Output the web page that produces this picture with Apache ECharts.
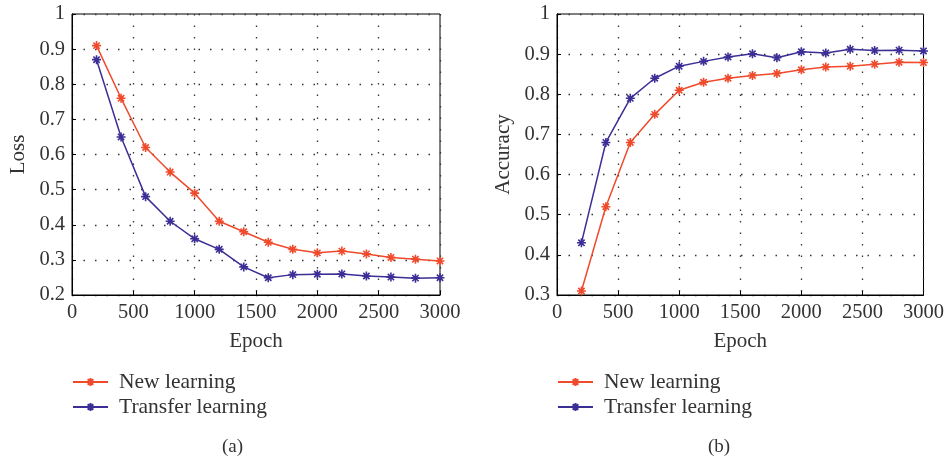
<!DOCTYPE html>
<html><head><meta charset="utf-8">
<script src="https://cdn.jsdelivr.net/npm/echarts@6/dist/echarts.min.js"></script>
<style>html,body{margin:0;padding:0;background:#fff}#c{width:947px;height:462px}</style>
</head><body><div id="c"></div>
<script>
const epochs = [200,400,600,800,1000,1200,1400,1600,1800,2000,2200,2400,2600,2800,3000];
const lossNew = [0.91,0.76,0.62,0.55,0.49,0.41,0.38,0.35,0.33,0.32,0.325,0.317,0.307,0.302,0.297];
const lossTransfer = [0.87,0.65,0.48,0.41,0.36,0.33,0.28,0.249,0.258,0.259,0.26,0.254,0.251,0.248,0.249];
const accNew = [0.31,0.52,0.68,0.75,0.81,0.83,0.84,0.847,0.852,0.861,0.868,0.870,0.875,0.880,0.879];
const accTransfer = [0.43,0.68,0.79,0.84,0.87,0.882,0.893,0.901,0.891,0.906,0.903,0.912,0.909,0.910,0.908];
const seriesNames = ['New learning','Transfer learning'];
const captions = ['(a)','(b)'];

const RED = '#ef4a2c', BLUE = '#3b2e95';
const FONT = 'Liberation Serif';
const star = 'path://M0,-1L0,1M-1,0L1,0M-0.7,-0.7L0.7,0.7M-0.7,0.7L0.7,-0.7';
const pairs = (ys) => epochs.map((x,i)=>[x,ys[i]]);

function xAx(gi){
  return {gridIndex:gi,type:'value',min:0,max:3000,interval:500,name:'Epoch',nameLocation:'middle',nameGap:36,
    nameTextStyle:{fontFamily:FONT,fontSize:21,color:'#333'},
    axisLine:{lineStyle:{color:'#000',width:1}},axisTick:{inside:true,length:4,lineStyle:{color:'#000'}},
    axisLabel:{fontFamily:FONT,fontSize:20.5,color:'#333',margin:7,formatter:(v)=>String(v)},
    splitLine:{show:true,lineStyle:{color:'#333',type:[1.5,10],width:1.3}}};
}
function yAx(gi,min,name){
  return {gridIndex:gi,type:'value',min:min,max:1,interval:0.1,name:name,nameLocation:'middle',nameGap:43,
    nameTextStyle:{fontFamily:FONT,fontSize:21,color:'#333'},
    axisLine:{show:true,lineStyle:{color:'#000',width:1}},axisTick:{show:true,inside:true,length:4,lineStyle:{color:'#000'}},
    axisLabel:{fontFamily:FONT,fontSize:20.5,color:'#333',margin:7,formatter:(v)=>String(+v.toFixed(1))},
    splitLine:{show:true,lineStyle:{color:'#333',type:[1.5,10],width:1.3}}};
}
function ser(name,gi,data,color){
  return {name:name,type:'line',xAxisIndex:gi,yAxisIndex:gi,data:pairs(data),symbol:star,symbolSize:9,
    lineStyle:{color:color,width:1.5},itemStyle:{color:color,borderColor:color,borderWidth:1.6},z:3};
}
function leg(left){
  return {orient:'vertical',left:left,top:366,itemWidth:35,itemHeight:10,itemGap:3,data:seriesNames,
    textStyle:{fontFamily:FONT,fontSize:21.5,color:'#333',padding:[0,0,0,6]},selectedMode:false};
}

const chart = echarts.init(document.getElementById('c'),null,{renderer:'canvas'});
chart.setOption({
  animation:false,
  title:[
    {text:captions[0],left:222,top:438,padding:0,textStyle:{fontFamily:FONT,fontSize:19,fontWeight:'normal',color:'#333'}},
    {text:captions[1],left:708,top:438,padding:0,textStyle:{fontFamily:FONT,fontSize:19,fontWeight:'normal',color:'#333'}}
  ],
  grid:[
    {left:72,right:507,top:14,bottom:167,show:true,borderColor:'#000',borderWidth:1,backgroundColor:'transparent'},
    {left:557,right:23,top:14,bottom:167,show:true,borderColor:'#000',borderWidth:1,backgroundColor:'transparent'}
  ],
  xAxis:[xAx(0),xAx(1)],
  yAxis:[yAx(0,0.2,'Loss'),yAx(1,0.3,'Accuracy')],
  legend:[leg(67),leg(552)],
  series:[
    ser(seriesNames[0],0,lossNew,RED),
    ser(seriesNames[1],0,lossTransfer,BLUE),
    ser(seriesNames[0],1,accNew,RED),
    ser(seriesNames[1],1,accTransfer,BLUE)
  ]
});
</script></body></html>
